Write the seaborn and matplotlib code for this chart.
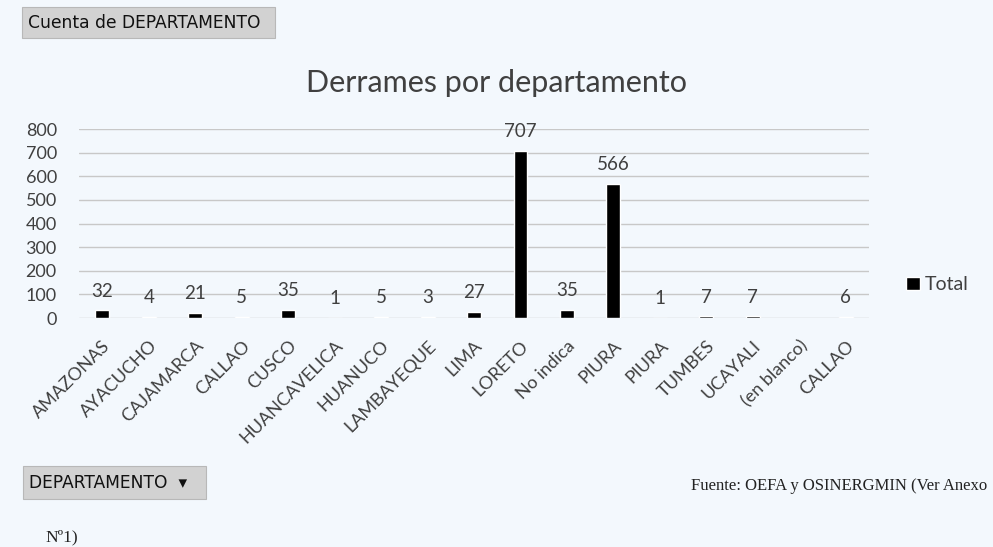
import matplotlib
matplotlib.use('Agg')
import matplotlib.pyplot as plt
from matplotlib.patches import FancyBboxPatch, Patch
import numpy as np
import pandas as pd
import seaborn as sns

# --- data ---
departamentos = ['AMAZONAS', 'AYACUCHO', 'CAJAMARCA', 'CALLAO', 'CUSCO', 'HUANCAVELICA',
                 'HUANUCO', 'LAMBAYEQUE', 'LIMA', 'LORETO', 'No indica', 'PIURA', 'PIURA',
                 'TUMBES', 'UCAYALI', '(en blanco)', 'CALLAO']
derrames = [32, 4, 21, 5, 35, 1, 5, 3, 27, 707, 35, 566, 1, 7, 7, np.nan, 6]
y_ticks = [0, 100, 200, 300, 400, 500, 600, 700, 800]

BG = '#f3f8fd'
GRID = '#c8c8c8'
TXT = '#404040'

sns.set_theme(style='white')
plt.rcParams['font.family'] = ['Lato', 'DejaVu Sans']

df = pd.DataFrame({'pos': np.arange(len(departamentos)), 'total': derrames})

fig = plt.figure(figsize=(9.93, 5.47), dpi=100, facecolor=BG)
ax = fig.add_axes([0.0796, 0.4186, 0.7955, 0.3455])
ax.set_facecolor(BG)

sns.barplot(data=df, x='pos', y='total', native_scale=True, color='black',
            width=0.3, saturation=1, ax=ax)

for i, v in enumerate(derrames):
    if np.isnan(v):
        continue
    ax.annotate(f'{int(v)}', (i, v), xytext=(0, 15), textcoords='offset points',
                ha='center', va='center_baseline', fontsize=13.5, color=TXT)

ax.set_xlim(-0.5, len(departamentos) - 0.5)
ax.set_ylim(0, 800)
ax.set_yticks(y_ticks)
ax.set_yticklabels([str(t) for t in y_ticks], fontsize=13, color=TXT)
ax.set_xticks(df['pos'])
ax.set_xticklabels(departamentos, rotation=45, ha='right', rotation_mode='anchor',
                   fontsize=13, color=TXT)
ax.tick_params(axis='x', length=0, pad=14)
ax.tick_params(axis='y', length=0, pad=16)
ax.set_xlabel('')
ax.set_ylabel('')
ax.yaxis.grid(True, color=GRID, linewidth=1)
ax.set_axisbelow(True)
sns.despine(ax=ax, left=True, bottom=True, top=True, right=True)

fig.text(0.5, 0.848, 'Derrames por departamento', ha='center', va='center',
         fontsize=22, color=TXT)

fig.legend(handles=[Patch(facecolor='black', label='Total')], loc='center left',
           bbox_to_anchor=(0.895, 0.479), frameon=False, fontsize=14,
           handlelength=0.7, handleheight=0.7, handletextpad=0.25, labelcolor=TXT)

# pivot field buttons
for (x0, y0, w, h, label) in [(22, 7, 253, 31, 'Cuenta de DEPARTAMENTO'),
                              (23, 466, 183, 33, 'DEPARTAMENTO  \u25be')]:
    box = FancyBboxPatch((x0 / 993, 1 - (y0 + h) / 547), w / 993, h / 547,
                         boxstyle='square,pad=0', transform=fig.transFigure,
                         facecolor='#d2d2d2', edgecolor='#b8b8b8', linewidth=0.8)
    fig.add_artist(box)
    fig.text((x0 + 6) / 993, 1 - (y0 + h / 2) / 547, label, ha='left', va='center',
             fontsize=12.3, color='#111111', family=['DejaVu Sans Condensed', 'DejaVu Sans'])

fig.text(0.994, 1 - 486 / 547, 'Fuente: OEFA y OSINERGMIN (Ver Anexo', ha='right',
         va='center', fontsize=12, color='#222222', family=['Liberation Serif'])
fig.text(45 / 993, 1 - 537 / 547, 'N\u00ba1)', ha='left', va='center',
         fontsize=12.5, color='#222222', family=['Liberation Serif'])

fig.savefig('out.png', dpi=100, facecolor=BG)
